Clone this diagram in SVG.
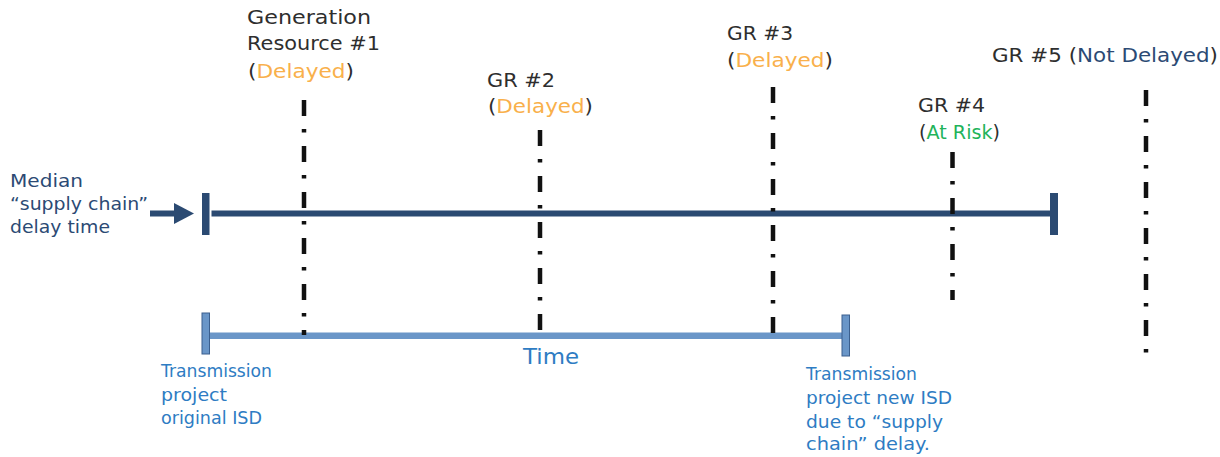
<svg xmlns="http://www.w3.org/2000/svg" width="1220" height="457" viewBox="0 0 1220 457">
  <style>
    text { font-family: "DejaVu Sans", "Liberation Sans", sans-serif; }
    .lbl { font-size: 20px; fill: #2e2e2e; }
    .delayed { fill: #f9b04b; }
    .risk { fill: #22b35a; }
    .navy { fill: #2b4a74; }
    .side { font-size: 18.5px; fill: #2b4a74; }
    .isd { font-size: 18.5px; fill: #2e7cc3; }
    .time { font-size: 21px; fill: #2e7cc3; }
    .marker { stroke: #111; stroke-width: 4.5; stroke-dasharray: 16 13 3.5 13.5; fill: none; }
    .dark { fill: #2b4a72; }
    .light { fill: #6a96c8; }
    .lightcap { fill: #6a96c8; stroke: #3b5f8e; stroke-width: 1; }
  </style>

  <!-- timelines and milestone markers -->
  <g id="connectors">
    <!-- median supply-chain delay bar -->
    <rect class="dark" x="150" y="210.5" width="28" height="6"/>
    <polygon class="dark" points="174,203 194,213.5 174,224"/>
    <rect class="dark" x="202" y="193" width="7.5" height="42"/>
    <rect class="dark" x="211.5" y="210.5" width="839" height="6"/>
    <rect class="dark" x="1050" y="193" width="8" height="42"/>

    <!-- transmission project bar -->
    <rect class="light" x="210" y="332.5" width="632" height="6.5"/>
    <rect class="lightcap" x="202" y="313" width="7.5" height="41"/>
    <rect class="lightcap" x="842" y="315" width="7.5" height="41"/>

    <!-- generation resource markers -->
    <line class="marker" x1="304" y1="100" x2="304" y2="335"/>
    <line class="marker" x1="540" y1="130" x2="540" y2="332"/>
    <line class="marker" x1="773" y1="87" x2="773" y2="333"/>
    <line class="marker" x1="952.5" y1="152" x2="952.5" y2="300"/>
    <line class="marker" x1="1146" y1="90" x2="1146" y2="354"/>
  </g>

  <g id="median-label">
    <text class="side" x="10" y="187" textLength="73" lengthAdjust="spacingAndGlyphs">Median</text>
    <text class="side" x="10" y="209.5" textLength="138" lengthAdjust="spacingAndGlyphs">“supply chain”</text>
    <text class="side" x="10" y="232.5" textLength="100" lengthAdjust="spacingAndGlyphs">delay time</text>
  </g>

  <g id="gr1">
    <text class="lbl" x="247" y="24" textLength="124" lengthAdjust="spacingAndGlyphs">Generation</text>
    <text class="lbl" x="247" y="50" textLength="133" lengthAdjust="spacingAndGlyphs">Resource #1</text>
    <text class="lbl" x="248" y="78" textLength="106" lengthAdjust="spacingAndGlyphs">(<tspan class="delayed">Delayed</tspan>)</text>
  </g>

  <g id="gr2">
    <text class="lbl" x="487" y="87" textLength="68" lengthAdjust="spacingAndGlyphs">GR #2</text>
    <text class="lbl" x="488" y="113" textLength="105" lengthAdjust="spacingAndGlyphs">(<tspan class="delayed">Delayed</tspan>)</text>
  </g>

  <g id="gr3">
    <text class="lbl" x="727" y="40" textLength="66" lengthAdjust="spacingAndGlyphs">GR #3</text>
    <text class="lbl" x="727" y="67" textLength="106" lengthAdjust="spacingAndGlyphs">(<tspan class="delayed">Delayed</tspan>)</text>
  </g>

  <g id="gr4">
    <text class="lbl" x="918" y="112" textLength="67" lengthAdjust="spacingAndGlyphs">GR #4</text>
    <text class="lbl" x="919" y="139" textLength="81" lengthAdjust="spacingAndGlyphs">(<tspan class="risk">At Risk</tspan>)</text>
  </g>

  <g id="gr5">
    <text class="lbl" x="992" y="62" textLength="226" lengthAdjust="spacingAndGlyphs">GR #5 (<tspan class="navy">Not Delayed</tspan>)</text>
  </g>

  <g id="original-isd">
    <text class="isd" x="161" y="377" textLength="111" lengthAdjust="spacingAndGlyphs">Transmission</text>
    <text class="isd" x="161" y="400.5" textLength="66" lengthAdjust="spacingAndGlyphs">project</text>
    <text class="isd" x="161" y="424" textLength="101" lengthAdjust="spacingAndGlyphs">original ISD</text>
  </g>

  <g id="new-isd">
    <text class="isd" x="806" y="380" textLength="111" lengthAdjust="spacingAndGlyphs">Transmission</text>
    <text class="isd" x="806" y="404" textLength="146" lengthAdjust="spacingAndGlyphs">project new ISD</text>
    <text class="isd" x="806" y="427.5" textLength="137" lengthAdjust="spacingAndGlyphs">due to “supply</text>
    <text class="isd" x="806" y="450" textLength="124" lengthAdjust="spacingAndGlyphs">chain” delay.</text>
  </g>

  <g id="time-axis-label">
    <text class="time" x="523" y="364" textLength="56" lengthAdjust="spacingAndGlyphs">Time</text>
  </g>
</svg>
